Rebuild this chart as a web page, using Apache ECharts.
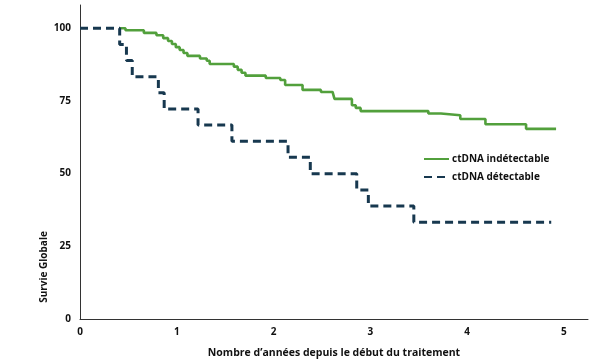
<!DOCTYPE html>
<html>
<head>
<meta charset="utf-8">
<script src="https://cdn.jsdelivr.net/npm/echarts@6/dist/echarts.min.js"></script>
<style>html,body{margin:0;padding:0;background:#fff}#c{width:600px;height:364px}</style>
</head>
<body>
<div id="c"></div>
<script>
var seriesNames = ['ctDNA indétectable', 'ctDNA détectable'];
var xTitle = 'Nombre d\u2019années depuis le début du traitement';
var yTitle = 'Survie Globale';
// Green: ctDNA indétectable (time in years, survival %)
var greenT = [0.41, 0.47, 0.66, 0.79, 0.86, 0.91, 0.95, 0.99, 1.03, 1.07, 1.11, 1.24, 1.31, 1.34, 1.59, 1.63, 1.67, 1.71, 1.92, 2.07, 2.12, 2.30, 2.49, 2.61, 2.63, 2.81, 2.85, 2.90, 3.60, 3.73, 3.93, 4.19, 4.61, 4.92];
var greenV = [100, 99.3, 98.4, 97.6, 96.6, 95.6, 94.6, 93.5, 92.5, 91.5, 90.5, 89.6, 88.8, 87.7, 86.8, 85.7, 84.7, 83.7, 82.9, 82.2, 80.5, 78.8, 78.1, 77.6, 75.7, 73.5, 72.6, 71.5, 70.7, 70.1, 68.8, 67.0, 65.4, 65.4];
// Dark: ctDNA détectable
var darkT = [0, 0.41, 0.48, 0.54, 0.81, 0.87, 1.22, 1.57, 2.15, 2.38, 2.86, 2.98, 3.45, 4.87];
var darkV = [100, 94.4, 88.9, 83.3, 77.8, 72.2, 66.7, 61.1, 55.6, 50.0, 44.4, 38.9, 33.3, 33.3];

function zip(a, b) { return a.map(function (t, i) { return [t, b[i]]; }); }

var FONT = 'Open Sans';
var chart = echarts.init(document.getElementById('c'), null, {renderer: 'canvas'});
chart.setOption({
  animation: false,
  backgroundColor: '#fff',
  grid: {left: 80, right: 12, top: 5, bottom: 43},
  legend: {
    left: 418, top: 149, orient: 'vertical', itemWidth: 25, itemHeight: 10, itemGap: 8,
    itemStyle: {opacity: 0},
    textStyle: {fontFamily: FONT, fontWeight: 'bold', fontSize: 10, color: '#111', padding: [0, 0, 0, -2]},
    data: seriesNames
  },
  xAxis: {
    type: 'value', min: 0, max: 5.25, interval: 1,
    name: xTitle, nameLocation: 'middle', nameGap: 29,
    nameTextStyle: {fontFamily: FONT, fontWeight: 'bold', fontSize: 10.5, color: '#111'},
    axisLine: {show: true, onZero: false, lineStyle: {color: '#333', width: 1}},
    axisTick: {show: false}, splitLine: {show: false},
    axisLabel: {margin: 8, fontFamily: FONT, fontWeight: 'bold', fontSize: 10, color: '#111',
      formatter: function (v) { return Math.abs(v - Math.round(v)) < 1e-9 ? String(v) : ''; }}
  },
  yAxis: {
    type: 'value', min: 0, max: 108, interval: 25,
    axisLine: {show: true, lineStyle: {color: '#333', width: 1}},
    axisTick: {show: false}, splitLine: {show: false},
    axisLabel: {margin: 9, fontFamily: FONT, fontWeight: 'bold', fontSize: 10, color: '#111',
      formatter: function (v) { return v % 25 === 0 ? String(v) : ''; }}
  },
  graphic: [{
    type: 'text', x: 44, y: 267, rotation: Math.PI / 2,
    style: {text: yTitle, fontFamily: FONT, fontWeight: 'bold', fontSize: 10, fill: '#111',
      textAlign: 'center', textVerticalAlign: 'middle'}
  }],
  series: [{
    name: seriesNames[0], type: 'line', step: 'end', symbol: 'none',
    data: zip(greenT, greenV),
    lineStyle: {color: '#52a03c', width: 2.6},
    itemStyle: {color: '#52a03c'}, z: 2
  }, {
    name: seriesNames[1], type: 'line', step: 'end', symbol: 'none',
    data: zip(darkT, darkV),
    lineStyle: {color: '#17384f', width: 3, type: [8, 5]},
    itemStyle: {color: '#17384f'}, z: 3
  }]
});
</script>
</body>
</html>
